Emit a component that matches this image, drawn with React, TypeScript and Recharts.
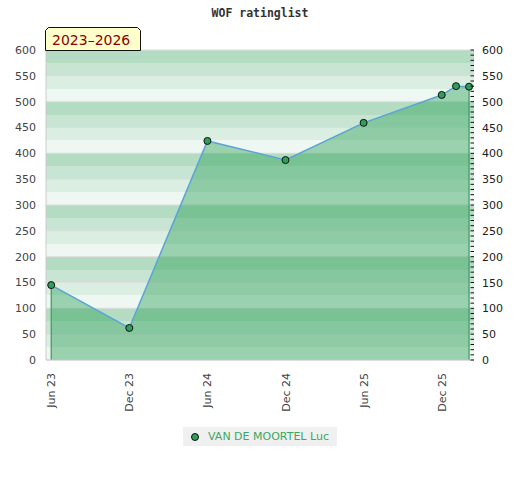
import { AreaChart, Area, XAxis, YAxis, CartesianGrid, ReferenceLine, Legend } from "recharts"

// months counted from Jun 2023
const months = [0, 6, 12, 18, 24, 30, 31.1, 32.1]
const ratings = [145, 62, 424, 387, 459, 513, 530, 529]

const tickMonths = [0, 6, 12, 18, 24, 30]
const tickLabels = ["Jun 23", "Dec 23", "Jun 24", "Dec 24", "Jun 25", "Dec 25"]
const leftTicks = [0, 50, 100, 150, 200, 250, 300, 350, 400, 450, 500, 550, 600]
const minorTicks = Array.from({ length: 61 }, (_, i) => i * 10)
const stripeStops = Array.from({ length: 25 }, (_, i) => i * 25)
const stripeColors = ["#b3dcc2", "#c8e5d3", "#dbeee2", "#eef7f1"]

const seriesName = "VAN DE MOORTEL Luc"
const periodLabel = "2023–2026"
const title = "WOF ratinglist"

const data = months.map((m, i) => ({ m, rating: ratings[i] }))

const font = "'DejaVu Sans', Verdana, sans-serif"

const XTick = ({ x, y, payload }: any) => {
  const label = tickLabels[tickMonths.indexOf(payload.value)]
  return (
    <text
      x={x}
      y={y}
      transform={`rotate(-90 ${x} ${y})`}
      textAnchor="end"
      dy={4}
      fill="#444"
      fontSize={11}
      fontFamily={font}
    >
      {label}
    </text>
  )
}

const RightTick = ({ x, y, payload }: any) => (
  <g>
    <line x1={x - 3.5} x2={x} y1={y} y2={y} stroke="#111" strokeWidth={1} />
    {payload.value % 50 === 0 && (
      <text x={x + 8} y={y} dy={4} fill="#222" fontSize={11} fontFamily={font}>
        {payload.value}
      </text>
    )}
  </g>
)

const LegendBox = () => (
  <div style={{ paddingTop: 7, display: "flex", justifyContent: "center" }}>
    <div
      style={{
        height: 19,
        background: "#f0f0f0",
        display: "flex",
        alignItems: "center",
        padding: "0 8px 0 8px",
        fontFamily: font,
        fontSize: 11,
        color: "#3aa862",
      }}
    >
      <svg width={8} height={10} style={{ marginRight: 9 }}>
        <circle cx={4} cy={5} r={3.5} fill="#2e9e5a" stroke="#111" strokeWidth={1} />
      </svg>
      {seriesName}
    </div>
  </div>
)

export default function App() {
  return (
    <div style={{ position: "absolute", left: 0, top: 0, width: 520, height: 480 }}>
      <AreaChart width={520} height={480} data={data} margin={{ top: 50, right: 0, bottom: 34, left: 0 }}>
        <CartesianGrid
          yAxisId="stripes"
          vertical={false}
          stroke="none"
          horizontalFill={stripeColors}
          fillOpacity={1}
        />
        <CartesianGrid vertical={false} stroke="#dddddd" />
        <XAxis
          dataKey="m"
          type="number"
          domain={[-0.4, 32.48]}
          ticks={tickMonths}
          interval={0}
          tickLine={false}
          tickSize={0}
          tickMargin={13}
          height={60}
          axisLine={{ stroke: "#cccccc" }}
          tick={<XTick />}
        />
        <YAxis
          domain={[0, 600]}
          ticks={leftTicks}
          interval={0}
          width={46}
          tickLine={false}
          tickSize={0}
          tickMargin={10}
          axisLine={{ stroke: "#cccccc" }}
          tick={{ fill: "#444", fontSize: 11, fontFamily: font }}
        />
        <YAxis
          yAxisId="stripes"
          hide
          domain={[0, 600]}
          allowDataOverflow
          ticks={stripeStops}
          interval={0}
        />
        <YAxis
          yAxisId="right"
          orientation="right"
          domain={[0, 600]}
          allowDataOverflow
          ticks={minorTicks}
          interval={0}
          width={46}
          tickLine={false}
          tickSize={0}
          tickMargin={0}
          axisLine={false}
          tick={<RightTick />}
        />
        <Legend verticalAlign="bottom" content={<LegendBox />} />
        <Area
          type="linear"
          dataKey="rating"
          name={seriesName}
          baseValue={0}
          stroke="#5ba4d8"
          strokeWidth={1.5}
          fill="#2da059"
          fillOpacity={0.43}
          dot={{ r: 3.5, fill: "#2e9e5a", stroke: "#111", strokeWidth: 1, fillOpacity: 1 }}
          activeDot={false}
          isAnimationActive={false}
        />
        <ReferenceLine
          segment={[
            { x: months[0], y: 0 },
            { x: months[0], y: ratings[0] },
          ]}
          stroke="#3a9a5e"
          strokeWidth={1.2}
        />
        <ReferenceLine
          segment={[
            { x: months[months.length - 1], y: 0 },
            { x: months[months.length - 1], y: ratings[ratings.length - 1] },
          ]}
          stroke="#3a9a5e"
          strokeWidth={1.2}
        />
      </AreaChart>
      <svg width={520} height={60} style={{ position: "absolute", left: 0, top: 0, pointerEvents: "none" }}>
        <text
          x={260}
          y={17}
          textAnchor="middle"
          fontFamily="'DejaVu Sans Mono', monospace"
          fontWeight="bold"
          fontSize={11.5}
          fill="#333"
        >
          {title}
        </text>
        <polygon points="45.5,30.5 48.5,27.5 137.5,27.5 140.5,30.5 140.5,50.5 45.5,50.5" fill="#ffffcc" stroke="#111" strokeWidth={1} />
        <text x={52} y={45} fontFamily={font} fontSize={14} fill="#8b0000">
          {periodLabel}
        </text>
      </svg>
    </div>
  )
}
